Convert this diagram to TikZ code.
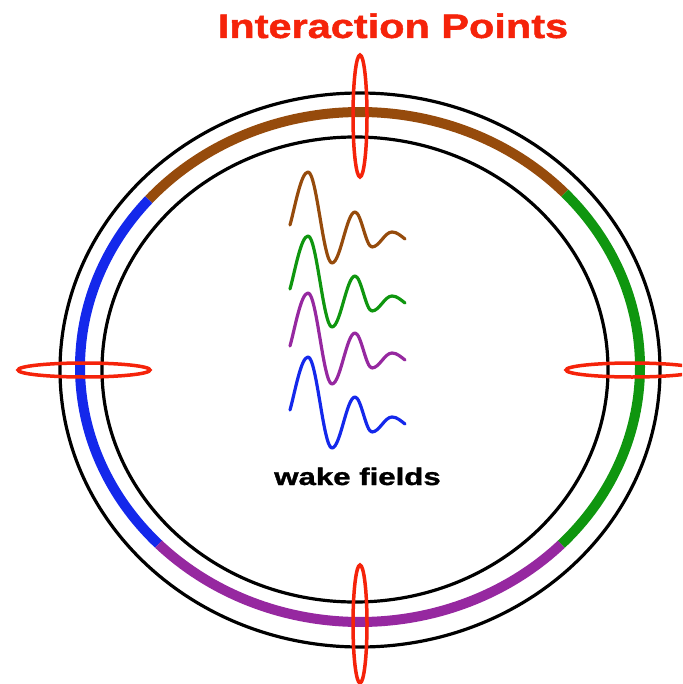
\documentclass[tikz,border=0pt]{standalone}
\usepackage{fontspec}
\setmainfont{Liberation Sans}
\newfontfamily\heavyfont[FakeBold=1.2]{Liberation Sans}
\definecolor{wbrown}{RGB}{150,75,12}
\definecolor{wgreen}{RGB}{15,150,15}
\definecolor{wblue}{RGB}{20,40,235}
\definecolor{wpurple}{RGB}{150,40,160}
\definecolor{ipred}{RGB}{245,35,10}
\tikzset{
  ring/.style={draw=black, line width=3.2pt},
  band/.style={line width=10pt, line cap=butt},
  ipring/.style={draw=ipred, line width=3.5pt},
  wakewave/.pic={
    \draw[line width=3.2pt, line cap=round, line join=round]
      (0,0) .. controls +(5,-18) and +(-7,0) .. (18,-53)
      .. controls +(8.7,0) and +(-8.7,0) .. (42,38)
      .. controls +(8.4,0) and +(-8.4,0) .. (65,-13)
      .. controls +(6.2,0) and +(-6.2,0) .. (82,22)
      .. controls +(7.3,0) and +(-7.3,0) .. (102,7)
      .. controls +(5,0) and +(-4,-3) .. (115,14);
  }
}
\begin{document}
\begin{tikzpicture}[x=1pt, y=-1pt]
\useasboundingbox (0,0) rectangle (682,684);
\fill[white] (0,0) rectangle (682,684);
\clip (0,0) rectangle (682,684);

% title
\node[ipred, anchor=base, inner sep=0pt, font=\heavyfont\bfseries\fontsize{34}{40}\selectfont] (title) at (393,38) {\scalebox{1.22}[1]{Interaction Points}};

% rings
\draw[ring] (360,370) ellipse [x radius=300, y radius=277];
\draw[ring] (355,369.5) ellipse [x radius=253, y radius=232.5];

% coloured band
\draw[band, wbrown] plot[domain=43:139, samples=80] ({360+280*cos(\x)},{367-255*sin(\x)});
\draw[band, wblue] plot[domain=139:224, samples=80] ({360+280*cos(\x)},{367-255*sin(\x)});
\draw[band, wpurple] plot[domain=224:316, samples=80] ({360+280*cos(\x)},{367-255*sin(\x)});
\draw[band, wgreen] plot[domain=-44:43, samples=80] ({360+280*cos(\x)},{367-255*sin(\x)});

% wake fields
\pic[color=wbrown] at (290,225) {wakewave};
\pic[color=wgreen] at (290,289) {wakewave};
\pic[color=wpurple] at (290,346) {wakewave};
\pic[color=wblue] at (290,410) {wakewave};

\node[anchor=base, inner sep=0pt, font=\heavyfont\bfseries\fontsize{24}{28}\selectfont] (wf) at (357.5,485) {\scalebox{1.3}[1]{wake fields}};

% interaction points
\draw[ipring] (360,116) ellipse [x radius=7, y radius=61];
\draw[ipring] (360,624) ellipse [x radius=7, y radius=59];
\draw[ipring] (84,370) ellipse [x radius=66, y radius=7];
\draw[ipring] (632,370) ellipse [x radius=66, y radius=7];
\end{tikzpicture}
\end{document}
